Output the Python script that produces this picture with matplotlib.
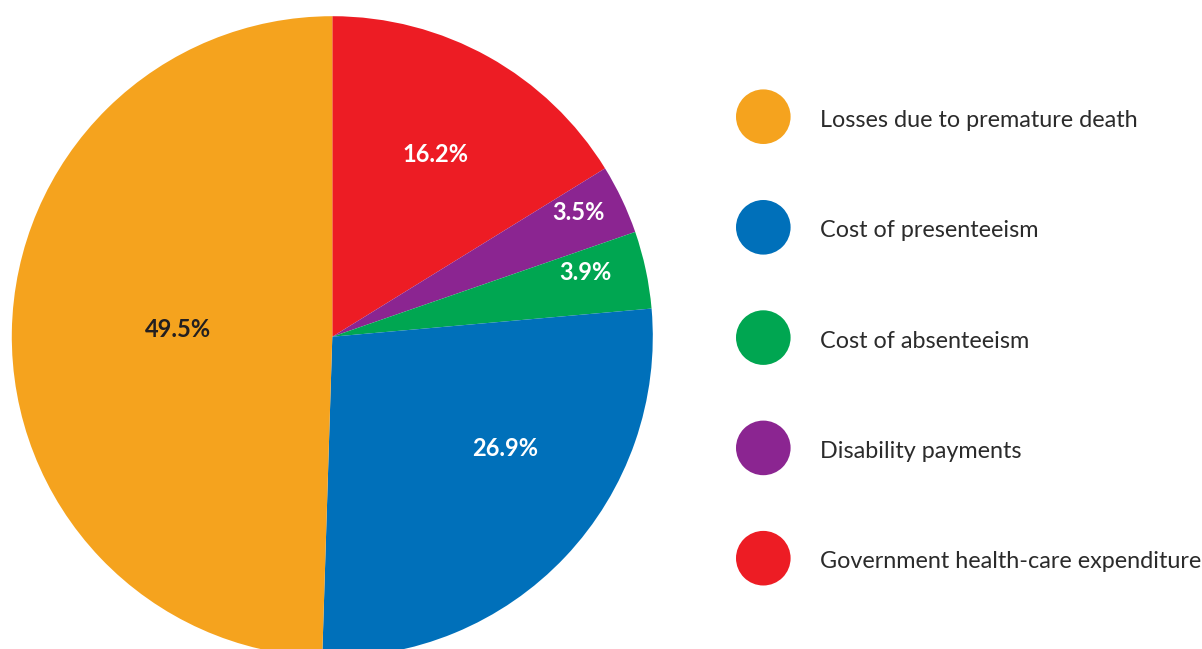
import matplotlib
matplotlib.use("Agg")
import matplotlib.pyplot as plt
from matplotlib.patches import Circle
import numpy as np

plt.rcParams['font.family'] = ['Lato', 'DejaVu Sans']

# Data (clockwise from top)
pie_labels = ["Government health-care expenditure", "Disability payments",
              "Cost of absenteeism", "Cost of presenteeism",
              "Losses due to premature death"]
pie_values = [16.2, 3.5, 3.9, 26.9, 49.5]
pie_colors = ["#ED1C24", "#8B2591", "#00A651", "#0070BA", "#F5A31E"]
label_colors = ["white", "white", "white", "white", "#231F20"]

legend_labels = ["Losses due to premature death", "Cost of presenteeism",
                 "Cost of absenteeism", "Disability payments",
                 "Government health-care expenditure"]
legend_colors = ["#F5A31E", "#0070BA", "#00A651", "#8B2591", "#ED1C24"]

W, H = 1202, 649
fig = plt.figure(figsize=(W / 100, H / 100), dpi=100)

cx, cy, r = 332.3, 336.7, 320.5
ax = fig.add_axes([(cx - r) / W, (H - cy - r) / H, 2 * r / W, 2 * r / H])
wedges, _ = ax.pie(pie_values, colors=pie_colors, startangle=90,
                   counterclock=False, radius=1,
                   wedgeprops=dict(linewidth=0))
ax.set_xlim(-1, 1)
ax.set_ylim(-1, 1)
ax.set_aspect('equal')
ax.axis('off')

# label placement (radial distance, angle offset in degrees)
label_dist = [0.652, 0.860, 0.814, 0.642, 0.483]
label_shift = [-0.3, 1.3, 2.1, 10.6, -1.6]
for w, v, d, s, c in zip(wedges, pie_values, label_dist, label_shift, label_colors):
    mid = np.deg2rad((w.theta1 + w.theta2) / 2 + s)
    ax.text(d * np.cos(mid), d * np.sin(mid), f"{v:.1f}%", ha='center', va='center',
            fontsize=17, fontweight='bold', color=c)

# legend overlay in pixel coordinates
lax = fig.add_axes([0, 0, 1, 1])
lax.set_xlim(0, W)
lax.set_ylim(H, 0)
lax.axis('off')
ys = [116.7, 227.3, 337.6, 447.9, 558.2]
for y, lab, col in zip(ys, legend_labels, legend_colors):
    lax.add_patch(Circle((763.3, y), 27.3, color=col, lw=0))
    lax.text(819.5, y + 10, lab, ha='left', va='baseline', fontsize=16.8, color='#2B2B2B')

fig.savefig("out.png", dpi=100)
